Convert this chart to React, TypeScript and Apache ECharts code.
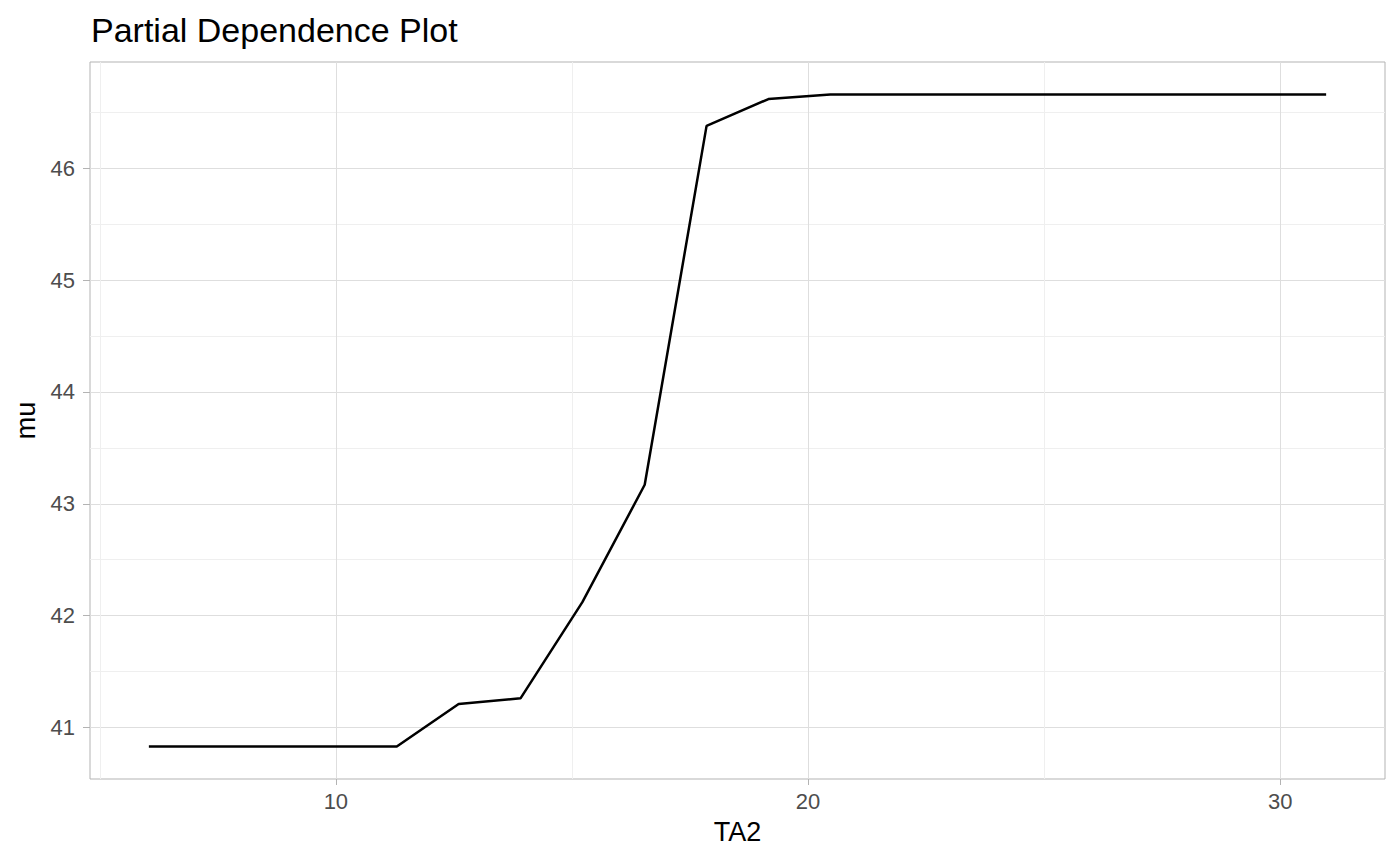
import React, { useEffect, useRef } from "react";
import * as echarts from "echarts";

// Partial dependence grid (TA2) and predicted mu
const ta2Values: number[] = [
  6.04, 7.35, 8.66, 9.98, 11.29, 12.6, 13.91, 15.22, 16.54, 17.85,
  19.16, 20.47, 21.78, 23.1, 24.41, 25.72, 27.03, 28.34, 29.66, 30.97,
];
const muValues: number[] = [
  40.83, 40.83, 40.83, 40.83, 40.83, 41.21, 41.26, 42.12, 43.17, 46.38,
  46.62, 46.66, 46.66, 46.66, 46.66, 46.66, 46.66, 46.66, 46.66, 46.66,
];
const xMajorTicks: number[] = [10, 20, 30];
const xMinorTicks: number[] = [5, 15, 25];
const yMajorTicks: number[] = [41, 42, 43, 44, 45, 46];
const yMinorTicks: number[] = [41.5, 42.5, 43.5, 44.5, 45.5, 46.5];

const titleText = "Partial Dependence Plot";
const xName = "TA2";
const yName = "mu";

function expand(vals: number[]): [number, number] {
  const lo = Math.min(...vals);
  const hi = Math.max(...vals);
  const pad = (hi - lo) * 0.05;
  return [lo - pad, hi + pad];
}

export default function App() {
  const ref = useRef<HTMLDivElement>(null);
  useEffect(() => {
    if (!ref.current) return;
    const chart = echarts.init(ref.current, undefined, { renderer: "svg" });
    const [xMin, xMax] = expand(ta2Values);
    const [yMin, yMax] = expand(muValues);
    const font = "Liberation Sans, Arial, sans-serif";
    const majorColor = "#DEDEDE";
    const minorColor = "#EFEFEF";
    const tickColor = "#B3B3B3";
    chart.setOption({
      animation: false,
      backgroundColor: "#FFFFFF",
      title: {
        text: titleText,
        left: 86,
        top: 8,
        textStyle: { fontFamily: font, fontSize: 34, fontWeight: "normal", color: "#000000" },
      },
      grid: {
        left: 90,
        right: 15,
        top: 62,
        bottom: 86,
        show: true,
        borderColor: "#B3B3B3",
        borderWidth: 1,
        backgroundColor: "transparent",
      },
      xAxis: [
        {
          type: "value",
          min: xMin,
          max: xMax,
          name: xName,
          nameLocation: "middle",
          nameGap: 39,
          nameTextStyle: { fontFamily: font, fontSize: 27, color: "#000000" },
          axisLine: { show: false },
          axisTick: { show: true, customValues: xMajorTicks, length: 6, lineStyle: { color: tickColor, width: 1 } },
          axisLabel: { customValues: xMajorTicks, margin: 11, fontFamily: font, fontSize: 22, color: "#4D4D4D" },
          splitLine: { show: true, lineStyle: { color: majorColor, width: 1 } },
        },
        {
          type: "value",
          min: xMin,
          max: xMax,
          position: "bottom",
          axisLine: { show: false },
          axisTick: { show: false, customValues: xMinorTicks },
          axisLabel: { show: false, customValues: xMinorTicks },
          splitLine: { show: true, lineStyle: { color: minorColor, width: 1 } },
        },
      ],
      yAxis: [
        {
          type: "value",
          min: yMin,
          max: yMax,
          name: yName,
          nameLocation: "middle",
          nameGap: 51,
          nameTextStyle: { fontFamily: font, fontSize: 27, color: "#000000" },
          axisLine: { show: false },
          axisTick: { show: true, customValues: yMajorTicks, length: 7, lineStyle: { color: tickColor, width: 1 } },
          axisLabel: { customValues: yMajorTicks, margin: 15, fontFamily: font, fontSize: 22, color: "#4D4D4D" },
          splitLine: { show: true, lineStyle: { color: majorColor, width: 1 } },
        },
        {
          type: "value",
          min: yMin,
          max: yMax,
          position: "left",
          axisLine: { show: false },
          axisTick: { show: false, customValues: yMinorTicks },
          axisLabel: { show: false, customValues: yMinorTicks },
          splitLine: { show: true, lineStyle: { color: minorColor, width: 1 } },
        },
      ],
      series: [
        {
          type: "line",
          xAxisIndex: 0,
          yAxisIndex: 0,
          data: ta2Values.map((x, i) => [x, muValues[i]]),
          showSymbol: false,
          symbol: "none",
          lineStyle: { color: "#000000", width: 2.5 },
          z: 5,
        },
      ],
    });
    return () => chart.dispose();
  }, []);
  return (
    <div
      ref={ref}
      style={{ position: "absolute", left: 0, top: 0, width: 1400, height: 865, background: "#fff" }}
    />
  );
}
